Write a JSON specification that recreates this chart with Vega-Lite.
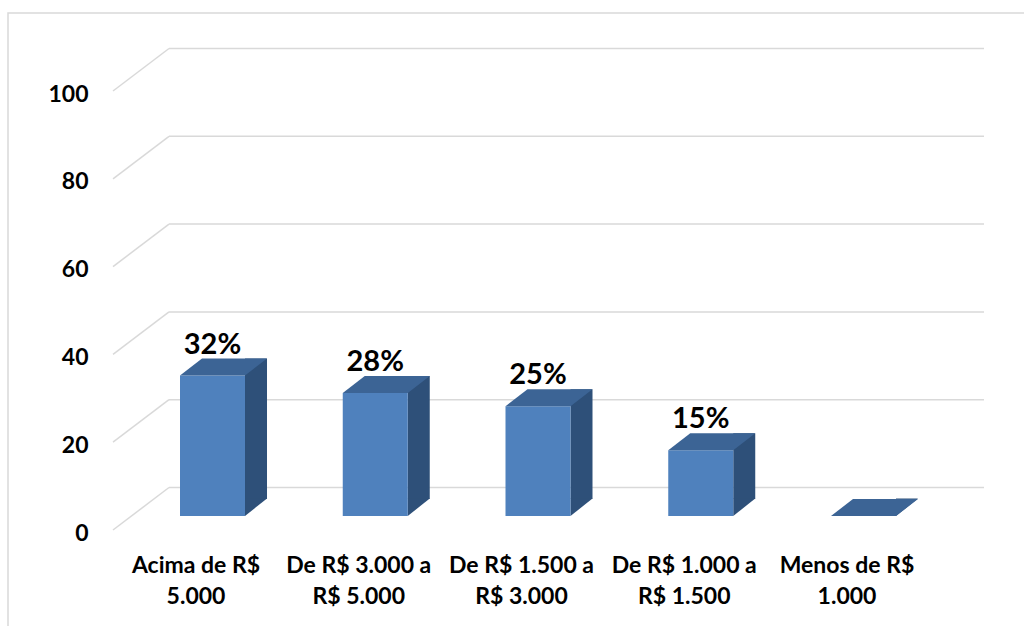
{
  "$schema": "https://vega.github.io/schema/vega-lite/v6.json",
  "width": 1027,
  "height": 627,
  "autosize": "none",
  "padding": {"left": 8, "top": 13, "right": 0, "bottom": 0},
  "background": "white",
  "config": {"view": {"stroke": "#d9d9d9", "strokeWidth": 1.5}, "font": "Lato"},
  "datasets": {
    "renda": [
      {"faixa": "Acima de R$ 5.000", "pct": 32},
      {"faixa": "De R$ 3.000 a R$ 5.000", "pct": 28},
      {"faixa": "De R$ 1.500 a R$ 3.000", "pct": 25},
      {"faixa": "De R$ 1.000 a R$ 1.500", "pct": 15},
      {"faixa": "Menos de R$ 1.000", "pct": 0}
    ],
    "grade": [{"g": 0}, {"g": 20}, {"g": 40}, {"g": 60}, {"g": 80}, {"g": 100}]
  },
  "layer": [
    {
      "data": {"name": "grade"},
      "mark": {"type": "rule", "color": "#d9d9d9", "strokeWidth": 1.5, "xOffset": -83, "x2Offset": -27, "yOffset": 14, "y2Offset": -28.5},
      "encoding": {
        "x": {
          "datum": "Acima de R$ 5.000", "type": "nominal",
          "scale": {"domain": ["Acima de R$ 5.000", "De R$ 3.000 a R$ 5.000", "De R$ 1.500 a R$ 3.000", "De R$ 1.000 a R$ 1.500", "Menos de R$ 1.000"], "paddingInner": 0, "paddingOuter": 0.6552},
          "axis": {
            "orient": "bottom", "offset": -68, "ticks": false, "domain": false, "grid": false, "labelPadding": 0, "labelAngle": 0,
            "labelBaseline": "alphabetic", "labelLineHeight": 31, "labelFont": "Lato", "labelFontSize": 23, "labelFontWeight": "bold",
            "labelColor": "black", "title": null, "labelOverlap": false, "labelLimit": 300, "labelFlush": false,
            "labelExpr": "indexof(datum.value, ' a R$') > 0 ? [substring(datum.value, 0, indexof(datum.value, ' a R$') + 2), substring(datum.value, indexof(datum.value, ' a R$') + 3)] : [substring(datum.value, 0, lastindexof(datum.value, ' ')), substring(datum.value, lastindexof(datum.value, ' ') + 1)]"
          }
        },
        "x2": {"datum": "Acima de R$ 5.000"},
        "y": {
          "field": "g", "type": "quantitative",
          "scale": {"domain": [-28.246, 114.579], "nice": false, "zero": false},
          "axis": {
            "values": [0, 20, 40, 60, 80, 100], "grid": false, "domain": false, "ticks": false, "labelPadding": 0, "offset": -80,
            "labelOffset": 17, "labelFont": "Lato", "labelFontSize": 23, "labelFontWeight": "bold", "labelColor": "black",
            "title": null, "labelOverlap": false, "labelFlush": false
          }
        },
        "y2": {"field": "g"}
      }
    },
    {
      "data": {"name": "grade"},
      "mark": {"type": "rule", "color": "#d9d9d9", "strokeWidth": 1.5, "xOffset": -27, "x2Offset": 137, "yOffset": -28.5},
      "encoding": {
        "x": {"datum": "Acima de R$ 5.000", "type": "nominal"},
        "x2": {"datum": "Menos de R$ 1.000"},
        "y": {"field": "g", "type": "quantitative"}
      }
    },
    {
      "data": {"name": "renda"},
      "mark": {"type": "bar", "width": 22, "xOffset": 60, "yOffset": -17, "y2Offset": -17, "color": "#2E5079", "opacity": 1},
      "encoding": {
        "x": {"field": "faixa", "type": "nominal"},
        "y": {"field": "pct", "type": "quantitative"},
        "y2": {"datum": 0}
      }
    },
    {
      "data": {"name": "renda"},
      "mark": {"type": "point", "shape": "M0.98,-0.35L0.98,0L1.42,-0.35Z", "size": 10000, "filled": true, "opacity": 1, "strokeWidth": 0, "color": "#2E5079"},
      "encoding": {
        "x": {"field": "faixa", "type": "nominal"},
        "y": {"datum": 0, "type": "quantitative"}
      }
    },
    {
      "data": {"name": "renda"},
      "mark": {"type": "bar", "width": 65, "xOffset": 16.5, "color": "#4F81BD", "opacity": 1},
      "encoding": {
        "x": {"field": "faixa", "type": "nominal"},
        "y": {"field": "pct", "type": "quantitative"},
        "y2": {"datum": 0}
      }
    },
    {
      "data": {"name": "renda"},
      "mark": {"type": "point", "shape": "M-0.32,0L0.98,0L1.42,-0.34L0.12,-0.34Z", "size": 10000, "filled": true, "opacity": 1, "strokeWidth": 0, "color": "#3C6495"},
      "encoding": {
        "x": {"field": "faixa", "type": "nominal"},
        "y": {"field": "pct", "type": "quantitative"}
      }
    },
    {
      "data": {"name": "renda"},
      "transform": [{"filter": "datum.pct > 0"}, {"calculate": "datum.pct + '%'", "as": "rotulo"}],
      "mark": {"type": "text", "dx": 16.5, "dy": -22, "baseline": "alphabetic", "align": "center", "font": "Lato", "fontSize": 29, "fontWeight": "bold", "color": "black"},
      "encoding": {
        "x": {"field": "faixa", "type": "nominal"},
        "y": {"field": "pct", "type": "quantitative"},
        "text": {"field": "rotulo"}
      }
    }
  ]
}
